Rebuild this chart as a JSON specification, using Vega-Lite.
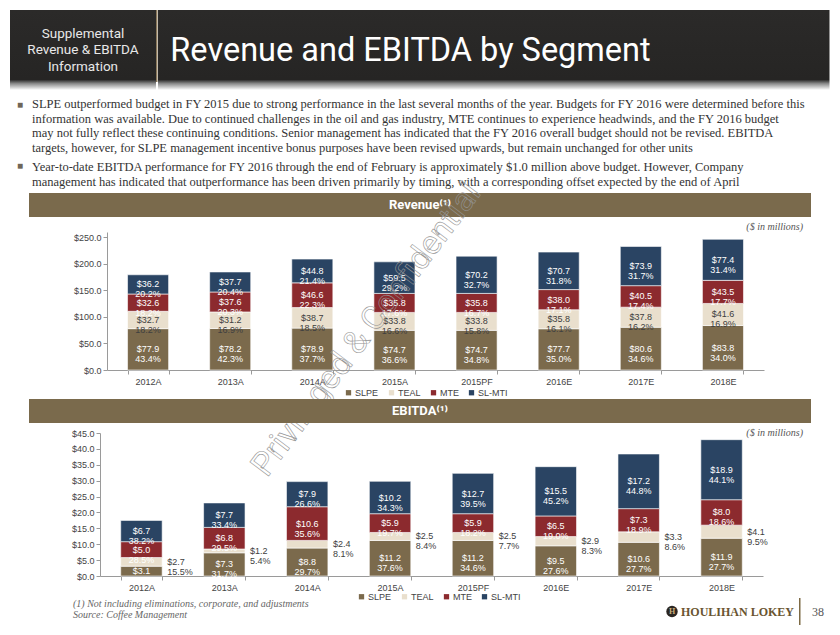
{
  "$schema": "https://vega.github.io/schema/vega-lite/v6.json",
  "background": "white",
  "padding": {"left": 0, "top": 10, "right": 0, "bottom": 0},
  "autosize": {"type": "pad"},
  "bounds": "flush",
  "spacing": 0,
  "config": {
    "view": {"stroke": null},
    "font": "Liberation Sans",
    "axis": {"labelFont": "Liberation Sans"},
    "legend": {"labelFont": "Liberation Sans"}
  },
  "resolve": {"scale": {"x": "independent", "y": "independent", "color": "independent"}, "legend": {"color": "independent"}},
  "datasets": {
    "rev": [
      {"year": "2012A", "seg": "SLPE", "value": 77.9, "pct": 43.4},
      {"year": "2012A", "seg": "TEAL", "value": 32.7, "pct": 18.2},
      {"year": "2012A", "seg": "MTE", "value": 32.6, "pct": 18.2},
      {"year": "2012A", "seg": "SL-MTI", "value": 36.2, "pct": 20.2},
      {"year": "2013A", "seg": "SLPE", "value": 78.2, "pct": 42.3},
      {"year": "2013A", "seg": "TEAL", "value": 31.2, "pct": 16.9},
      {"year": "2013A", "seg": "MTE", "value": 37.6, "pct": 20.3},
      {"year": "2013A", "seg": "SL-MTI", "value": 37.7, "pct": 20.4},
      {"year": "2014A", "seg": "SLPE", "value": 78.9, "pct": 37.7},
      {"year": "2014A", "seg": "TEAL", "value": 38.7, "pct": 18.5},
      {"year": "2014A", "seg": "MTE", "value": 46.6, "pct": 22.3},
      {"year": "2014A", "seg": "SL-MTI", "value": 44.8, "pct": 21.4},
      {"year": "2015A", "seg": "SLPE", "value": 74.7, "pct": 36.6},
      {"year": "2015A", "seg": "TEAL", "value": 33.8, "pct": 16.6},
      {"year": "2015A", "seg": "MTE", "value": 35.8, "pct": 17.6},
      {"year": "2015A", "seg": "SL-MTI", "value": 59.5, "pct": 29.2},
      {"year": "2015PF", "seg": "SLPE", "value": 74.7, "pct": 34.8},
      {"year": "2015PF", "seg": "TEAL", "value": 33.8, "pct": 15.8},
      {"year": "2015PF", "seg": "MTE", "value": 35.8, "pct": 16.7},
      {"year": "2015PF", "seg": "SL-MTI", "value": 70.2, "pct": 32.7},
      {"year": "2016E", "seg": "SLPE", "value": 77.7, "pct": 35.0},
      {"year": "2016E", "seg": "TEAL", "value": 35.8, "pct": 16.1},
      {"year": "2016E", "seg": "MTE", "value": 38.0, "pct": 17.1},
      {"year": "2016E", "seg": "SL-MTI", "value": 70.7, "pct": 31.8},
      {"year": "2017E", "seg": "SLPE", "value": 80.6, "pct": 34.6},
      {"year": "2017E", "seg": "TEAL", "value": 37.8, "pct": 16.2},
      {"year": "2017E", "seg": "MTE", "value": 40.5, "pct": 17.4},
      {"year": "2017E", "seg": "SL-MTI", "value": 73.9, "pct": 31.7},
      {"year": "2018E", "seg": "SLPE", "value": 83.8, "pct": 34.0},
      {"year": "2018E", "seg": "TEAL", "value": 41.6, "pct": 16.9},
      {"year": "2018E", "seg": "MTE", "value": 43.5, "pct": 17.7},
      {"year": "2018E", "seg": "SL-MTI", "value": 77.4, "pct": 31.4}
    ],
    "ebitda": [
      {"year": "2012A", "seg": "SLPE", "value": 3.1, "pct": 17.9},
      {"year": "2012A", "seg": "TEAL", "value": 2.7, "pct": 15.5},
      {"year": "2012A", "seg": "MTE", "value": 5.0, "pct": 28.5},
      {"year": "2012A", "seg": "SL-MTI", "value": 6.7, "pct": 38.2},
      {"year": "2013A", "seg": "SLPE", "value": 7.3, "pct": 31.7},
      {"year": "2013A", "seg": "TEAL", "value": 1.2, "pct": 5.4},
      {"year": "2013A", "seg": "MTE", "value": 6.8, "pct": 29.5},
      {"year": "2013A", "seg": "SL-MTI", "value": 7.7, "pct": 33.4},
      {"year": "2014A", "seg": "SLPE", "value": 8.8, "pct": 29.7},
      {"year": "2014A", "seg": "TEAL", "value": 2.4, "pct": 8.1},
      {"year": "2014A", "seg": "MTE", "value": 10.6, "pct": 35.6},
      {"year": "2014A", "seg": "SL-MTI", "value": 7.9, "pct": 26.6},
      {"year": "2015A", "seg": "SLPE", "value": 11.2, "pct": 37.6},
      {"year": "2015A", "seg": "TEAL", "value": 2.5, "pct": 8.4},
      {"year": "2015A", "seg": "MTE", "value": 5.9, "pct": 19.7},
      {"year": "2015A", "seg": "SL-MTI", "value": 10.2, "pct": 34.3},
      {"year": "2015PF", "seg": "SLPE", "value": 11.2, "pct": 34.6},
      {"year": "2015PF", "seg": "TEAL", "value": 2.5, "pct": 7.7},
      {"year": "2015PF", "seg": "MTE", "value": 5.9, "pct": 18.2},
      {"year": "2015PF", "seg": "SL-MTI", "value": 12.7, "pct": 39.5},
      {"year": "2016E", "seg": "SLPE", "value": 9.5, "pct": 27.6},
      {"year": "2016E", "seg": "TEAL", "value": 2.9, "pct": 8.3},
      {"year": "2016E", "seg": "MTE", "value": 6.5, "pct": 19.0},
      {"year": "2016E", "seg": "SL-MTI", "value": 15.5, "pct": 45.2},
      {"year": "2017E", "seg": "SLPE", "value": 10.6, "pct": 27.7},
      {"year": "2017E", "seg": "TEAL", "value": 3.3, "pct": 8.6},
      {"year": "2017E", "seg": "MTE", "value": 7.3, "pct": 18.9},
      {"year": "2017E", "seg": "SL-MTI", "value": 17.2, "pct": 44.8},
      {"year": "2018E", "seg": "SLPE", "value": 11.9, "pct": 27.7},
      {"year": "2018E", "seg": "TEAL", "value": 4.1, "pct": 9.5},
      {"year": "2018E", "seg": "MTE", "value": 8.0, "pct": 18.6},
      {"year": "2018E", "seg": "SL-MTI", "value": 18.9, "pct": 44.1}
    ]
  },
  "vconcat": [
    {
      "hconcat": [
        {"width": 10, "height": 80, "data": {"values": []}, "mark": "rect"},
        {
          "width": 146, "height": 80,
          "view": {"fill": {"gradient": "linear", "x1": 0, "y1": 0, "x2": 0, "y2": 1, "stops": [{"offset": 0, "color": "#2b2a29"}, {"offset": 0.87, "color": "#262524"}, {"offset": 0.92, "color": "#8a8a8a"}, {"offset": 1, "color": "#ffffff"}]}},
          "data": {"values": [{}]},
          "mark": {"type": "text", "text": "Supplemental\nRevenue & EBITDA\nInformation", "lineBreak": "\n", "font": "Roboto", "fontSize": 13.5, "lineHeight": 16.5, "color": "#e8e8e8", "baseline": "middle", "align": "center", "dy": -16.5}
        },
        {"width": 1.5, "height": 72, "view": {"fill": "#8a785a"}, "data": {"values": []}, "mark": "rect"},
        {
          "width": 505, "height": 80,
          "view": {"fill": {"gradient": "linear", "x1": 0, "y1": 0, "x2": 0, "y2": 1, "stops": [{"offset": 0, "color": "#2b2a29"}, {"offset": 0.87, "color": "#262524"}, {"offset": 0.92, "color": "#8a8a8a"}, {"offset": 1, "color": "#ffffff"}]}},
          "data": {"values": [{}]},
          "mark": {"type": "text", "text": "Revenue and EBITDA by Segment", "font": "Roboto", "fontSize": 32.5, "color": "#ffffff", "baseline": "middle", "align": "center", "dy": 1}
        },
        {
          "width": 166.5, "height": 80,
          "view": {"fill": {"gradient": "linear", "x1": 0, "y1": 0, "x2": 0, "y2": 1, "stops": [{"offset": 0, "color": "#2b2a29"}, {"offset": 0.87, "color": "#262524"}, {"offset": 0.92, "color": "#8a8a8a"}, {"offset": 1, "color": "#ffffff"}]}},
          "data": {"values": []}, "mark": "rect"
        }
      ],
      "bounds": "flush", "spacing": 0
    },
    {"width": 1, "height": 80, "data": {"values": []}, "mark": "rect"},
    {
      "hconcat": [
        {"width": 17, "height": 103, "data": {"values": []}, "mark": "rect"},
        {
          "width": 15, "height": 1, "data": {"values": []}, "mark": "rect",
          "title": {"text": ["■", " ", " ", " "], "subtitle": ["■"], "orient": "bottom", "anchor": "start", "frame": "group", "offset": 9, "baseline": "top", "font": "Liberation Serif", "fontSize": 10, "fontWeight": "normal", "color": "#6f6658", "lineHeight": 14.5, "subtitleFont": "Liberation Serif", "subtitleFontSize": 10, "subtitleColor": "#6f6658", "subtitleLineHeight": 14.5, "subtitlePadding": 7}
        },
        {
          "width": 773, "height": 1, "data": {"values": []}, "mark": "rect",
          "title": {
            "text": [
              "SLPE outperformed budget in FY 2015 due to strong performance in the last several months of the year. Budgets for FY 2016 were determined before this",
              "information was available. Due to continued challenges in the oil and gas industry, MTE continues to experience headwinds, and the FY 2016 budget",
              "may not fully reflect these continuing conditions. Senior management has indicated that the FY 2016 overall budget should not be revised. EBITDA",
              "targets, however, for SLPE management incentive bonus purposes have been revised upwards, but remain unchanged for other units"
            ],
            "subtitle": [
              "Year-to-date EBITDA performance for FY 2016 through the end of February is approximately $1.0 million above budget. However, Company",
              "management has indicated that outperformance has been driven primarily by timing, with a corresponding offset expected by the end of April"
            ],
            "orient": "bottom", "anchor": "start", "frame": "group", "offset": 7, "baseline": "top",
            "font": "Liberation Serif", "fontSize": 12.5, "fontWeight": "normal", "color": "#333333", "lineHeight": 14.5,
            "subtitleFont": "Liberation Serif", "subtitleFontSize": 12.5, "subtitleColor": "#333333", "subtitleLineHeight": 14.5, "subtitlePadding": 7
          }
        }
      ],
      "bounds": "flush", "spacing": 0
    },
    {"width": 1, "height": 103, "data": {"values": []}, "mark": "rect"},
    {
      "hconcat": [
        {"width": 29, "height": 24, "data": {"values": []}, "mark": "rect"},
        {
          "width": 782, "height": 24, "view": {"fill": "#7a6a4c"},
          "data": {"values": [{}]},
          "mark": {"type": "text", "text": "Revenue⁽¹⁾", "font": "Roboto", "fontSize": 13, "fontWeight": "bold", "color": "#ffffff", "baseline": "middle", "align": "center"},
          "title": {"text": "($ in millions)", "orient": "bottom", "anchor": "end", "frame": "group", "dx": -8, "offset": 5, "baseline": "top", "font": "Liberation Serif", "fontStyle": "italic", "fontSize": 10, "fontWeight": "normal", "color": "#555555"}
        }
      ],
      "bounds": "flush", "spacing": 0
    },
    {"width": 1, "height": 39, "data": {"values": []}, "mark": "rect"},
    {
      "hconcat": [
        {"width": 107, "height": 138, "data": {"values": []}, "mark": "rect"},
        {
          "width": 657, "height": 138,
          "data": {"name": "rev"},
          "transform": [
            {"calculate": "indexof(['SLPE','TEAL','MTE','SL-MTI'], datum.seg)", "as": "ord"},
            {"stack": "value", "groupby": ["year"], "sort": [{"field": "ord", "order": "ascending"}], "as": ["y0", "y1"]},
            {"calculate": "(datum.y0 + datum.y1) / 2", "as": "ymid"},
            {"calculate": "'$' + format(datum.value, '.1f') + '\\n' + format(datum.pct, '.1f') + '%'", "as": "lbl"}
          ],
          "layer": [
            {
              "mark": {"type": "bar", "stroke": "#ffffff", "strokeWidth": 0.6},
              "encoding": {
                "x": {"field": "year", "type": "nominal", "sort": null, "scale": {"paddingInner": 0.5, "paddingOuter": 0.25},
                  "axis": {"title": null, "labelAngle": 0, "labelFontSize": 9, "labelColor": "#444444", "tickSize": 4, "tickBand": "extent", "domainColor": "#9a9a9a", "tickColor": "#9a9a9a", "labelPadding": 3}},
                "y": {"field": "y1", "type": "quantitative", "scale": {"domain": [0, 250]},
                  "axis": {"title": null, "grid": false, "values": [0, 50, 100, 150, 200, 250], "labelOverlap": false, "format": "$.1f", "labelFontSize": 9, "labelColor": "#444444", "tickSize": 4, "labelPadding": 2, "domainColor": "#9a9a9a", "tickColor": "#9a9a9a"}},
                "y2": {"field": "y0"},
                "color": {"field": "seg", "type": "nominal",
                  "scale": {"domain": ["SLPE", "TEAL", "MTE", "SL-MTI"], "range": ["#7b6a4c", "#e9dfcd", "#8c2a2e", "#2a4463"]},
                  "legend": {"orient": "none", "legendX": 344, "legendY": 156, "direction": "horizontal", "title": null, "symbolType": "square", "symbolSize": 28, "symbolStrokeWidth": 0, "labelFontSize": 9, "labelColor": "#444444", "columnPadding": 8, "labelOffset": 2}}
              }
            },
            {
              "mark": {"type": "text", "lineBreak": "\n", "fontSize": 9, "lineHeight": 10, "baseline": "middle", "align": "center"},
              "encoding": {
                "x": {"field": "year", "type": "nominal", "sort": null},
                "y": {"field": "ymid", "type": "quantitative",
                  "axis": {"title": null, "grid": false, "values": [0, 50, 100, 150, 200, 250], "labelOverlap": false, "format": "$.1f", "labelFontSize": 9, "labelColor": "#444444", "tickSize": 4, "labelPadding": 2, "domainColor": "#9a9a9a", "tickColor": "#9a9a9a"}},
                "text": {"field": "lbl"},
                "fill": {"condition": {"test": "datum.seg === 'TEAL'", "value": "#404040"}, "value": "#ffffff"}
              }
            },
            {
              "transform": [{"filter": "datum.year === '2012A' && datum.seg === 'SLPE'"}],
              "mark": {"type": "text", "text": "Privileged & Confidential", "angle": -53, "font": "Roboto", "fontSize": 33, "fillOpacity": 0, "stroke": "#959595", "strokeWidth": 0.6, "baseline": "middle", "align": "center"},
              "encoding": {
                "x": {"datum": "2014A", "type": "nominal", "bandPosition": 1.82},
                "y": {"datum": 76, "type": "quantitative",
                  "axis": {"title": null, "grid": false, "values": [0, 50, 100, 150, 200, 250], "labelOverlap": false, "format": "$.1f", "labelFontSize": 9, "labelColor": "#444444", "tickSize": 4, "labelPadding": 2, "domainColor": "#9a9a9a", "tickColor": "#9a9a9a"}}
              }
            }
          ]
        }
      ],
      "bounds": "flush", "spacing": 0
    },
    {"width": 1, "height": 167, "data": {"values": []}, "mark": "rect"},
    {
      "hconcat": [
        {"width": 29, "height": 24, "data": {"values": []}, "mark": "rect"},
        {
          "width": 782, "height": 24, "view": {"fill": "#7a6a4c"},
          "data": {"values": [{}]},
          "mark": {"type": "text", "text": "EBITDA⁽¹⁾", "font": "Roboto", "fontSize": 13, "fontWeight": "bold", "color": "#ffffff", "baseline": "middle", "align": "center"},
          "title": {"text": "($ in millions)", "orient": "bottom", "anchor": "end", "frame": "group", "dx": -8, "offset": 5, "baseline": "top", "font": "Liberation Serif", "fontStyle": "italic", "fontSize": 10, "fontWeight": "normal", "color": "#555555"}
        }
      ],
      "bounds": "flush", "spacing": 0
    },
    {"width": 1, "height": 34, "data": {"values": []}, "mark": "rect"},
    {
      "hconcat": [
        {"width": 100, "height": 143, "data": {"values": []}, "mark": "rect"},
        {
          "width": 663, "height": 143,
          "data": {"name": "ebitda"},
          "transform": [
            {"calculate": "indexof(['SLPE','TEAL','MTE','SL-MTI'], datum.seg)", "as": "ord"},
            {"stack": "value", "groupby": ["year"], "sort": [{"field": "ord", "order": "ascending"}], "as": ["y0", "y1"]},
            {"calculate": "(datum.y0 + datum.y1) / 2", "as": "ymid"},
            {"calculate": "'$' + format(datum.value, '.1f') + '\\n' + format(datum.pct, '.1f') + '%'", "as": "lbl"}
          ],
          "layer": [
            {
              "mark": {"type": "bar", "stroke": "#ffffff", "strokeWidth": 0.6},
              "encoding": {
                "x": {"field": "year", "type": "nominal", "sort": null, "scale": {"paddingInner": 0.5, "paddingOuter": 0.25},
                  "axis": {"title": null, "labelAngle": 0, "labelFontSize": 9, "labelColor": "#444444", "tickSize": 4, "tickBand": "extent", "domainColor": "#9a9a9a", "tickColor": "#9a9a9a", "labelPadding": 3}},
                "y": {"field": "y1", "type": "quantitative", "scale": {"domain": [0, 45]},
                  "axis": {"title": null, "grid": false, "values": [0, 5, 10, 15, 20, 25, 30, 35, 40, 45], "labelOverlap": false, "format": "$.1f", "labelFontSize": 9, "labelColor": "#444444", "tickSize": 4, "labelPadding": 2, "domainColor": "#9a9a9a", "tickColor": "#9a9a9a"}},
                "y2": {"field": "y0"},
                "color": {"field": "seg", "type": "nominal",
                  "scale": {"domain": ["SLPE", "TEAL", "MTE", "SL-MTI"], "range": ["#7b6a4c", "#e9dfcd", "#8c2a2e", "#2a4463"]},
                  "legend": {"orient": "none", "legendX": 357, "legendY": 159, "direction": "horizontal", "title": null, "symbolType": "square", "symbolSize": 28, "symbolStrokeWidth": 0, "labelFontSize": 9, "labelColor": "#444444", "columnPadding": 8, "labelOffset": 2}}
              }
            },
            {
              "transform": [{"filter": "datum.seg !== 'TEAL'"}],
              "mark": {"type": "text", "lineBreak": "\n", "fontSize": 9, "lineHeight": 10, "baseline": "middle", "align": "center", "fill": "#ffffff"},
              "encoding": {
                "x": {"field": "year", "type": "nominal", "sort": null},
                "y": {"field": "ymid", "type": "quantitative",
                  "axis": {"title": null, "grid": false, "values": [0, 5, 10, 15, 20, 25, 30, 35, 40, 45], "labelOverlap": false, "format": "$.1f", "labelFontSize": 9, "labelColor": "#444444", "tickSize": 4, "labelPadding": 2, "domainColor": "#9a9a9a", "tickColor": "#9a9a9a"}},
                "text": {"field": "lbl"}
              }
            },
            {
              "transform": [{"filter": "datum.seg === 'TEAL'"}],
              "mark": {"type": "text", "lineBreak": "\n", "fontSize": 9, "lineHeight": 10, "baseline": "middle", "align": "left", "fill": "#404040"},
              "encoding": {
                "x": {"field": "year", "type": "nominal", "sort": null, "bandPosition": 1.12},
                "y": {"field": "ymid", "type": "quantitative",
                  "axis": {"title": null, "grid": false, "values": [0, 5, 10, 15, 20, 25, 30, 35, 40, 45], "labelOverlap": false, "format": "$.1f", "labelFontSize": 9, "labelColor": "#444444", "tickSize": 4, "labelPadding": 2, "domainColor": "#9a9a9a", "tickColor": "#9a9a9a"}},
                "text": {"field": "lbl"}
              }
            }
          ]
        }
      ],
      "bounds": "flush", "spacing": 0
    },
    {"width": 1, "height": 165, "data": {"values": []}, "mark": "rect"},
    {
      "hconcat": [
        {"width": 73, "height": 27, "data": {"values": []}, "mark": "rect"},
        {
          "width": 592, "height": 1, "data": {"values": []}, "mark": "rect",
          "title": {"text": ["(1) Not including eliminations, corporate, and adjustments", "Source: Coffee Management"], "orient": "bottom", "anchor": "start", "frame": "group", "offset": 0, "baseline": "top", "font": "Liberation Serif", "fontStyle": "italic", "fontSize": 10, "fontWeight": "normal", "color": "#666666", "lineHeight": 10.5}
        },
        {
          "width": 14, "height": 27, "data": {"values": [{}]},
          "layer": [
            {"mark": {"type": "circle", "size": 130, "color": "#2b2622", "opacity": 1}, "encoding": {}},
            {"mark": {"type": "text", "text": "H", "font": "Liberation Serif", "fontSize": 8, "fontWeight": "bold", "color": "#c8b07a", "baseline": "middle", "align": "center"}, "encoding": {}}
          ]
        },
        {
          "width": 117, "height": 27, "data": {"values": [{}]},
          "mark": {"type": "text", "text": "HOULIHAN LOKEY", "font": "Liberation Serif", "fontSize": 12, "fontWeight": "bold", "color": "#6a5530", "baseline": "middle", "align": "center"}
        },
        {"width": 3, "height": 27, "data": {"values": []}, "mark": "rect"},
        {"width": 1.5, "height": 27, "view": {"fill": "#7d6a45"}, "data": {"values": []}, "mark": "rect"},
        {"width": 11, "height": 27, "data": {"values": []}, "mark": "rect"},
        {
          "width": 12, "height": 27, "data": {"values": [{}]},
          "mark": {"type": "text", "text": "38", "font": "Liberation Serif", "fontSize": 12, "color": "#555555", "baseline": "middle", "align": "center"}
        }
      ],
      "bounds": "flush", "spacing": 0
    }
  ]
}
